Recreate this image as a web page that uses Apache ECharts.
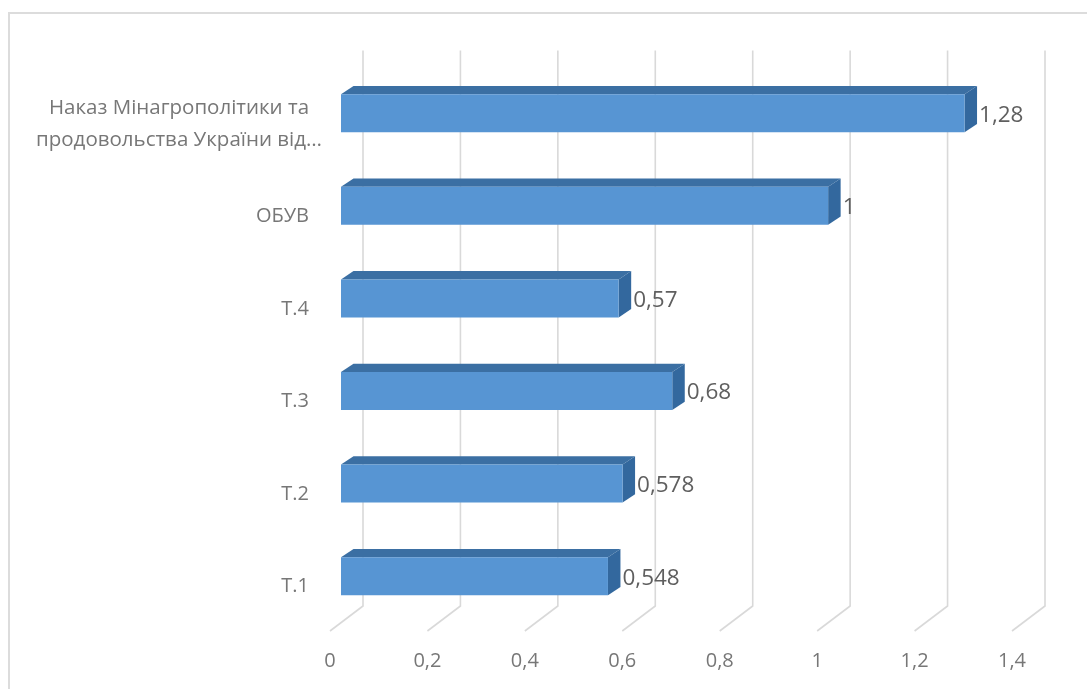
<!DOCTYPE html>
<html>
<head>
<meta charset="utf-8">
<style>html,body{margin:0;padding:0;background:#fff}#c{width:1087px;height:689px}</style>
<script src="https://cdn.jsdelivr.net/npm/echarts@6/dist/echarts.min.js"></script>
</head>
<body>
<div id="c"></div>
<script>
const categories = ['Т.1', 'Т.2', 'Т.3', 'Т.4', 'ОБУВ', 'LONG'];
const longLabelLines = ['Наказ Мінагрополітики та', 'продовольства України від…'];
const values = [0.548, 0.578, 0.68, 0.57, 1, 1.28];
const xTicks = [0, 0.2, 0.4, 0.6, 0.8, 1, 1.2, 1.4];

const comma = v => String(v).replace('.', ',');
const chart = echarts.init(document.getElementById('c'), null, {renderer: 'canvas'});
const FONT = '"Open Sans", sans-serif';

chart.setOption({
  animation: false,
  backgroundColor: '#ffffff',
  graphic: [{
    type: 'rect', silent: true, z: 0,
    shape: {x: 9, y: 13, width: 1200, height: 800},
    style: {fill: 'none', stroke: '#dcdcdc', lineWidth: 2}
  }],
  grid: {left: 330, right: 75, top: 75.4, bottom: 58},
  xAxis: {
    type: 'value', min: 0, max: 1.4, interval: 0.2,
    axisLine: {show: false}, axisTick: {show: false}, splitLine: {show: false},
    axisLabel: {
      margin: 20, color: '#777777', fontFamily: FONT, fontSize: 20,
      formatter: v => comma(Math.round(v * 10) / 10)
    }
  },
  yAxis: {
    type: 'category', data: categories,
    axisLine: {show: false}, axisTick: {show: false}, splitLine: {show: false},
    axisLabel: {
      margin: 21, color: '#777777', fontFamily: FONT, fontSize: 20,
      formatter: v => v === 'LONG'
        ? longLabelLines.map(l => '{m|' + l + '}').join('\n')
        : '{s|' + v + '}',
      rich: {
        m: {width: 260, align: 'center', color: '#777777', fontFamily: FONT, fontSize: 20.5, lineHeight: 32, padding: [4, 0, 0, 0]},
        s: {color: '#777777', fontFamily: FONT, fontSize: 20, padding: [4, 0, 0, 0]}
      }
    }
  },
  series: [
    {
      type: 'custom', silent: true, z: 1, clip: false,
      data: xTicks.map(t => [t, 0]),
      renderItem(params, api) {
        const x = api.coord([api.value(0), 0])[0];
        const cs = params.coordSys;
        const bottom = cs.y + cs.height, top = cs.y;
        return {
          type: 'polyline',
          shape: {points: [[x, bottom], [x + 33, bottom - 25], [x + 33, top - 25]]},
          style: {stroke: '#d9d9d9', lineWidth: 1.6, fill: 'none'}
        };
      }
    },
    {
      type: 'custom', silent: true, z: 2, clip: false,
      data: values.map((v, i) => [v, i]),
      encode: {x: 0, y: 1},
      renderItem(params, api) {
        const v = api.value(0);
        const end = api.coord([v, api.value(1)]);
        const start = api.coord([0, api.value(1)]);
        const band = api.size([0, 1])[1];
        const h = band * 0.41, ox = 11, oy = -8.5, dx = 12.5, dy = -8.3;
        const l = start[0] + ox, r = end[0] + ox, t = end[1] + oy - h / 2, b = t + h;
        return {
          type: 'group',
          children: [
            {type: 'polygon', shape: {points: [[l, t], [r, t], [r + dx, t + dy], [l + dx, t + dy]]},
             style: {fill: '#3b6fa3'}},
            {type: 'polygon', shape: {points: [[r, t], [r + dx, t + dy], [r + dx, b + dy], [r, b]]},
             style: {fill: '#33689e'}},
            {type: 'rect', shape: {x: l, y: t, width: r - l, height: h},
             style: {fill: '#5795d3'}},
            {type: 'text', style: {
              x: r + 14.5, y: t + h / 2 + 2, text: comma(v),
              fill: '#5f5f5f', font: '22.5px ' + FONT, textAlign: 'left', textVerticalAlign: 'middle'
            }}
          ]
        };
      }
    }
  ]
});
</script>
</body>
</html>
